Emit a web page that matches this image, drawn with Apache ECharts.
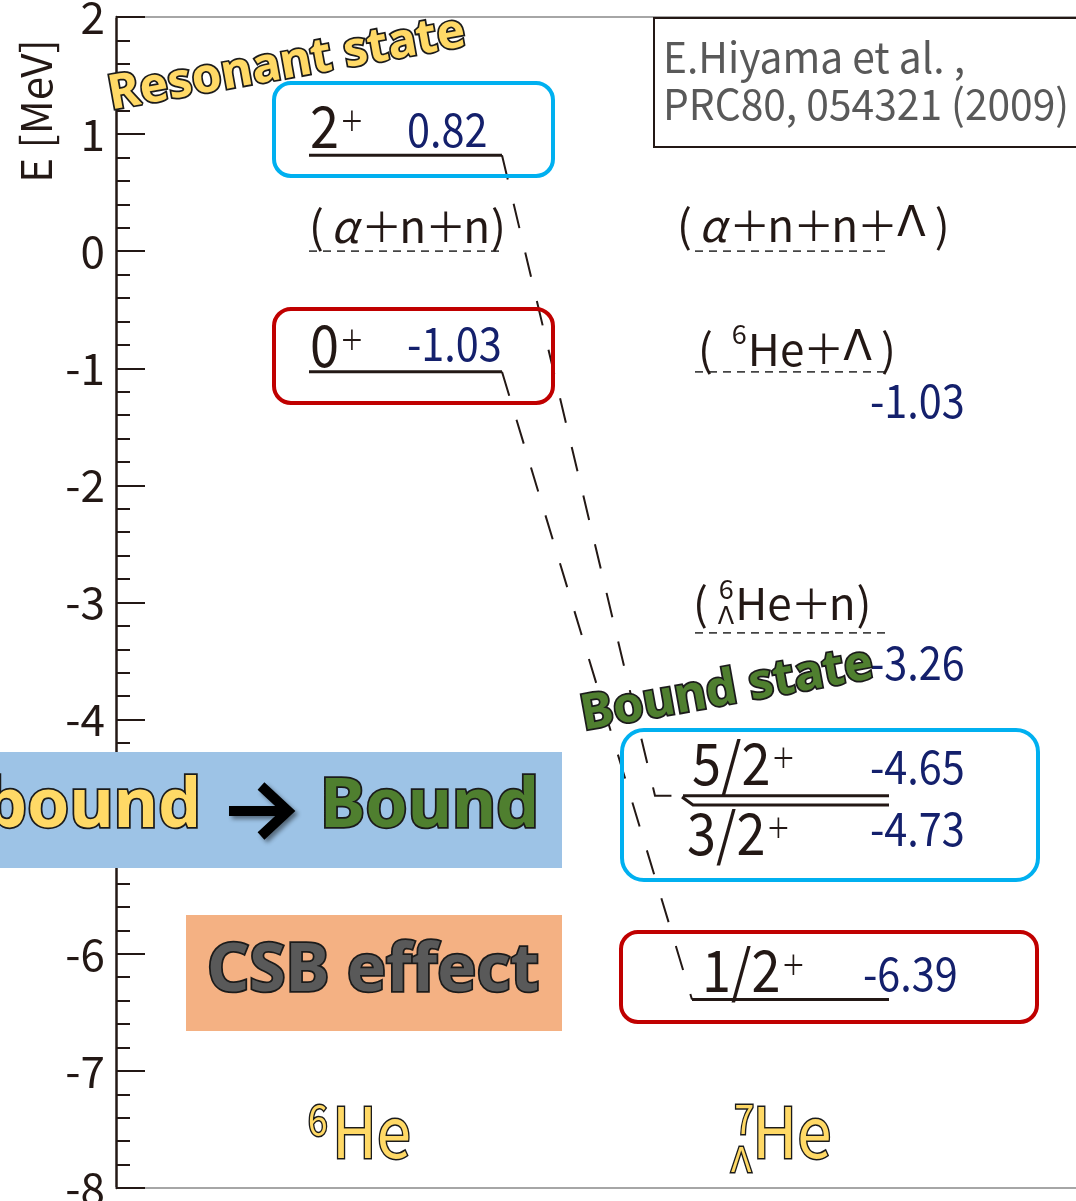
<!DOCTYPE html>
<html>
<head>
<meta charset="utf-8">
<title>6He and 7ΛHe levels</title>
<script src="https://cdn.jsdelivr.net/npm/echarts@6/dist/echarts.min.js"></script>
<style>
  html, body { margin: 0; padding: 0; background: #fff; }
  #chart { width: 1076px; height: 1201px; }
</style>
</head>
<body>
<div id="chart"></div>
<script>
// ---------------- data ----------------
const energyMin = -8;
const energyMax = 2;
const energyStep = 1;
const axisTitle = 'E [MeV]';

const he6Spins = ['2', '0'];
const he6Energies = [0.82, -1.03];
const he6ThresholdNames = ['α+n+n'];
const he6ThresholdEnergies = [0];

const he7Spins = ['5/2', '3/2', '1/2'];
const he7Energies = [-4.65, -4.73, -6.39];
const he7ThresholdNames = ['α+n+n+Λ', '6He+Λ', '6ΛHe+n'];
const he7ThresholdEnergies = [0, -1.03, -3.26];

// 6He level index -> 7ΛHe level index joined by a dashed guide
const correspondence = [[0, 0], [1, 2]];

const referenceLines = ['E.Hiyama et al. ,', 'PRC80, 054321 (2009)'];

// ---------------- styling / layout ----------------
const FONT = '"Noto Sans CJK JP", "Noto Sans", sans-serif';
const GREEK = '"DejaVu Sans", "Noto Sans", sans-serif';
const BOLD = '"Noto Sans", "Open Sans", sans-serif';
const INK = '#231815';
const NAVY = '#14206c';
const YELLOW = '#ffd966';
const GREEN = '#4f7f2f';
const NARROW = 0.9;   // horizontal squeeze of the level annotations

// horizontal placement on a 0..960 axis that spans the plot width (1 unit = 1 px)
const SPAN_6 = [193, 386];
const SPAN_7 = [567, 773];
const SPAN_7_THR = [579, 772];

// per-level label placement (pixels from the start of the level line)
const levelStyle = [
  { start: 0,  spin: [1, -29],  value: [98, -26] },
  { start: 0,  spin: [1, -27],  value: [98, -28] },
  { start: 0,  spin: [9, -33],  value: [187, -29] },
  { start: 10, spin: [-6, 28],  value: [177, 23], lead: [-11, -8] },
  { start: 9,  spin: [10, -30], value: [171, -26] }
];
const thresholdStyle = [
  { label: [0, -25] },
  { label: [-18, -26] },
  { label: [3, -23], value: [175, 29] },
  { label: [-2, -30], value: [175, 30] }
];
// horizontal run (px) of each dashed guide before it meets its 7ΛHe level
const guideRun = [28, 0];

const levelRows = [];
he6Spins.forEach((j, i) => levelRows.push({ spin: j, energy: he6Energies[i], span: SPAN_6 }));
he7Spins.forEach((j, i) => levelRows.push({ spin: j, energy: he7Energies[i], span: SPAN_7 }));

const thresholdRows = [];
he6ThresholdNames.forEach((n, i) => thresholdRows.push({ name: n, energy: he6ThresholdEnergies[i], span: SPAN_6, showValue: false }));
he7ThresholdNames.forEach((n, i) => thresholdRows.push({ name: n, energy: he7ThresholdEnergies[i], span: SPAN_7_THR, showValue: he7ThresholdEnergies[i] !== 0 }));

// ---------------- text helpers ----------------
const measureCtx = document.createElement('canvas').getContext('2d');
function advance(str, font) {
  measureCtx.font = font;
  return measureCtx.measureText(str).width;
}
function textEl(str, x, y, font, fill, extra, sx) {
  return {
    type: 'text', x: x, y: y, scaleX: sx || 1,
    style: Object.assign({ text: str, font: font, fill: fill || INK, align: 'left', verticalAlign: 'middle' }, extra || {})
  };
}
// place tokens left to right; a token with "stack" holds a super/subscript pair
function flow(tokens, x, y, fill, extra, sx) {
  sx = sx || 1;
  const els = [];
  let cx = x;
  tokens.forEach(t => {
    cx += (t.pre || 0) * sx;
    if (t.stack) {
      let w = 0;
      t.stack.forEach(s => {
        els.push(textEl(s.text, cx + (s.dx || 0) * sx, y + s.dy, s.font, fill, extra, sx));
        w = Math.max(w, advance(s.text, s.font));
      });
      cx += w * sx;
    } else {
      els.push(textEl(t.text, cx, y + (t.dy || 0), t.font, fill, extra, sx));
      cx += advance(t.text, t.font) * sx;
    }
    cx += (t.post || 0) * sx;
  });
  return els;
}
const F44 = '44px ' + FONT;
const F44I = 'italic 44px ' + FONT;
const FSMALL = '27px ' + FONT;
const PLUS = '41px ' + FONT;
function thresholdTokens(name) {
  const out = [{ text: '(', font: F44, post: 7 }];
  name.split('+').forEach((part, k) => {
    if (k) out.push({ text: '＋', font: PLUS, pre: -1, post: -3 });
    const m = part.match(/^(\d+)(Λ?)(.+)$/);
    if (m) {
      const stack = m[2]
        ? [{ text: m[1], font: FSMALL, dy: -14, dx: 1 }, { text: 'Λ', font: '24px ' + GREEK, dy: 15 }]
        : [{ text: m[1], font: FSMALL, dy: -15 }];
      out.push({ stack: stack, pre: m[2] ? 3 : 12, post: 1 });
      out.push({ text: m[3], font: F44 });
    } else if (part === 'α') {
      out.push({ text: 'α', font: F44I, post: 4 });
    } else if (part === 'Λ') {
      out.push({ text: 'Λ', font: '42px ' + GREEK, pre: 2, post: 8 });
    } else {
      out.push({ text: part, font: F44 });
    }
  });
  out.push({ text: ')', font: F44, pre: 1 });
  return out;
}
function spinTokens(j) {
  return [{ text: j, font: '58px ' + FONT }, { text: '＋', font: '27px ' + FONT, pre: 1, dy: -5 }];
}

// ---------------- series renderers ----------------
function renderLevel(params, api) {
  const i = params.dataIndex;
  const st = levelStyle[i];
  const e = api.value(2);
  const p0 = api.coord([api.value(0), e]);
  const p1 = api.coord([api.value(1), e]);
  const x0 = p0[0] + st.start;
  const pts = [[x0, p0[1]], [p1[0], p1[1]]];
  if (st.lead) pts.unshift([x0 + st.lead[0], p0[1] + st.lead[1]]);
  const children = [
    { type: 'polyline', shape: { points: pts }, style: { stroke: INK, lineWidth: 3, fill: null } },
    textEl(e.toFixed(2), x0 + st.value[0], p0[1] + st.value[1], '46px ' + FONT, NAVY, null, NARROW)
  ].concat(flow(spinTokens(levelRows[i].spin), x0 + st.spin[0], p0[1] + st.spin[1], INK, null, NARROW));
  return { type: 'group', children: children };
}
function renderThreshold(params, api) {
  const i = params.dataIndex;
  const st = thresholdStyle[i];
  const row = thresholdRows[i];
  const e = api.value(2);
  const p0 = api.coord([api.value(0), e]);
  const p1 = api.coord([api.value(1), e]);
  const children = [
    { type: 'line', shape: { x1: p0[0], y1: p0[1], x2: p1[0], y2: p1[1] },
      style: { stroke: '#444', lineWidth: 1.8, lineDash: [8, 6] } }
  ].concat(flow(thresholdTokens(row.name), p0[0] + st.label[0], p0[1] + st.label[1]));
  if (row.showValue) {
    children.push(textEl(e.toFixed(2), p0[0] + st.value[0], p0[1] + st.value[1], '46px ' + FONT, NAVY, null, NARROW));
  }
  return { type: 'group', children: children };
}
function renderGuide(params, api) {
  const i = params.dataIndex;
  const a = api.coord([api.value(0), api.value(1)]);
  const b = api.coord([api.value(2), api.value(3)]);
  const pts = [a, [b[0] - guideRun[i], b[1]], b];
  return {
    type: 'polyline',
    shape: { points: pts },
    style: { stroke: INK, lineWidth: 2, fill: null, lineDash: [25, 25] }
  };
}

const guideData = correspondence.map(([from, to]) => {
  const src = levelRows[from];
  const k = he6Spins.length + to;
  const dst = levelRows[k];
  return [src.span[1], src.energy, dst.span[0] + levelStyle[k].start, dst.energy];
});

// ---------------- decorations ----------------
const shadow = { shadowColor: 'rgba(0,0,0,0.45)', shadowBlur: 4, shadowOffsetX: 3, shadowOffsetY: 3 };
const calloutStroke = Object.assign({ stroke: '#1b1b1b', lineWidth: 3.5 }, shadow);
const nucleusStyle = { stroke: '#1b1b1b', lineWidth: 3 };

const graphics = [
  // reference box
  { type: 'rect', shape: { x: 654, y: 18, width: 440, height: 129 }, style: { fill: '#fff', stroke: INK, lineWidth: 2 } },
  textEl(referenceLines[0], 663, 57, '42px ' + FONT, '#595959', null, 0.97),
  textEl(referenceLines[1], 663, 104, '42px ' + FONT, '#595959', null, 0.97),
  // axis title
  { type: 'text', x: 36, y: 111, rotation: Math.PI / 2,
    style: { text: axisTitle, font: '42px ' + FONT, fill: INK, align: 'center', verticalAlign: 'middle' } },
  // highlight frames
  { type: 'rect', shape: { x: 274, y: 83, width: 279, height: 93, r: 17 }, style: { fill: null, stroke: '#00b0f0', lineWidth: 4 } },
  { type: 'rect', shape: { x: 274, y: 309, width: 279, height: 94, r: 17 }, style: { fill: null, stroke: '#c00000', lineWidth: 4 } },
  { type: 'rect', shape: { x: 622, y: 730, width: 416, height: 150, r: 22 }, style: { fill: null, stroke: '#00b0f0', lineWidth: 4 } },
  { type: 'rect', shape: { x: 621, y: 932, width: 416, height: 90, r: 17 }, style: { fill: null, stroke: '#c00000', lineWidth: 4 } },
  // callouts
  { type: 'text', x: 287, y: 64, rotation: 0.178,
    style: Object.assign({ text: 'Resonant state', font: 'bold 48px ' + BOLD, fill: YELLOW, align: 'center', verticalAlign: 'middle' }, calloutStroke) },
  { type: 'text', x: 727, y: 690, rotation: 0.178,
    style: Object.assign({ text: 'Bound state', font: 'bold 49px ' + BOLD, fill: GREEN, align: 'center', verticalAlign: 'middle' }, calloutStroke) },
  // banners
  { type: 'rect', shape: { x: 0, y: 752, width: 562, height: 116 }, style: { fill: '#9dc3e6' } },
  { type: 'text', x: 201, y: 808,
    style: Object.assign({ text: 'Unbound', font: 'bold 68px ' + BOLD, fill: YELLOW, align: 'right', verticalAlign: 'middle' }, calloutStroke) },
  { type: 'line', shape: { x1: 229, y1: 811, x2: 284, y2: 811 }, style: Object.assign({ stroke: '#000', lineWidth: 10 }, shadow) },
  { type: 'polyline', shape: { points: [[261, 786], [288, 811], [261, 836]] }, style: Object.assign({ stroke: '#000', lineWidth: 10, fill: null, lineJoin: 'miter' }, shadow) },
  { type: 'text', x: 320, y: 808,
    style: Object.assign({ text: 'Bound', font: 'bold 68px ' + BOLD, fill: GREEN, align: 'left', verticalAlign: 'middle' }, calloutStroke) },
  { type: 'rect', shape: { x: 186, y: 915, width: 376, height: 116 }, style: { fill: '#f4b183' } },
  { type: 'text', x: 373, y: 972,
    style: Object.assign({ text: 'CSB effect', font: 'bold 66px ' + BOLD, fill: '#595959', align: 'center', verticalAlign: 'middle' }, calloutStroke) }
]
// nucleus names under each column
.concat(flow([{ text: '6', font: '40px ' + FONT, dy: -11 }, { text: 'He', font: '70px ' + FONT, pre: 5 }], 308, 1131, YELLOW, nucleusStyle, 0.88))
.concat(flow([{ stack: [{ text: '7', font: '40px ' + FONT, dy: -12, dx: 4 }, { text: 'Λ', font: '34px ' + GREEK, dy: 32 }] },
              { text: 'He', font: '70px ' + FONT, pre: 1 }], 731, 1131, YELLOW, nucleusStyle, 0.88));

graphics.forEach(g => { g.z = 50; });

// ---------------- chart ----------------
const chart = echarts.init(document.getElementById('chart'), null, { renderer: 'canvas' });
chart.setOption({
  animation: false,
  backgroundColor: '#fff',
  grid: { left: 116, right: 0, top: 17, bottom: 13, containLabel: false, outerBoundsMode: 'none' },
  xAxis: [
    { type: 'value', min: 0, max: 960, position: 'bottom',
      axisLine: { show: true, onZero: false, lineStyle: { color: '#a6a6a6', width: 2 } },
      axisTick: { show: false }, axisLabel: { show: false }, splitLine: { show: false } },
    { type: 'value', min: 0, max: 960, position: 'top',
      axisLine: { show: true, onZero: false, lineStyle: { color: '#a6a6a6', width: 2 } },
      axisTick: { show: false }, axisLabel: { show: false }, splitLine: { show: false } }
  ],
  yAxis: {
    type: 'value', min: energyMin, max: energyMax, interval: energyStep,
    axisLine: { show: true, onZero: false, lineStyle: { color: INK, width: 2.5 } },
    axisTick: { show: true, inside: true, length: 29, lineStyle: { color: INK, width: 2 } },
    minorTick: { show: true, splitNumber: 5, length: 14, lineStyle: { color: INK, width: 2 } },
    axisLabel: { fontSize: 44, fontFamily: FONT, color: INK, margin: 11 },
    splitLine: { show: false }
  },
  series: [
    { type: 'custom', name: 'thresholds', silent: true, z: 3,
      data: thresholdRows.map(r => [r.span[0], r.span[1], r.energy]), renderItem: renderThreshold },
    { type: 'custom', name: 'guides', silent: true, z: 4,
      data: guideData, renderItem: renderGuide },
    { type: 'custom', name: 'levels', silent: true, z: 5,
      data: levelRows.map(r => [r.span[0], r.span[1], r.energy]), renderItem: renderLevel }
  ],
  graphic: graphics
});
</script>
</body>
</html>
